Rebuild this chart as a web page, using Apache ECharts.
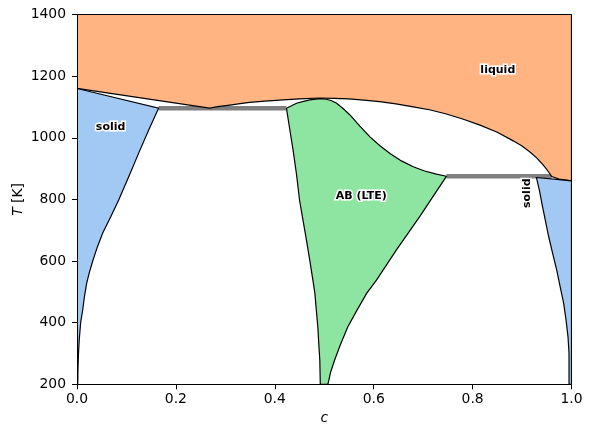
<!DOCTYPE html>
<html><head><meta charset="utf-8">
<script src="https://cdn.jsdelivr.net/npm/echarts@6/dist/echarts.min.js"></script>
<style>html,body{margin:0;padding:0;background:#fff}#c{width:592px;height:437px}</style>
</head><body><div id="c"></div>
<script>
// Liquidus (lower boundary of the liquid region), c from 0 to 1
const liquidus = [[0,1160],[0.268,1096],[0.285,1101],[0.309,1106],[0.33,1111],[0.349,1115],[0.38,1119],[0.417,1123],[0.45,1126],[0.49,1129],[0.52,1128],[0.55,1126],[0.58,1122],[0.612,1117],[0.645,1110],[0.68,1100],[0.715,1090],[0.747,1077],[0.78,1061],[0.815,1041],[0.85,1018],[0.882,990],[0.9,973],[0.916,954],[0.93,934],[0.943,911],[0.952,893],[0.96,874],[0.975,866],[1,860]];
// Left terminal solid
const leftSolid = [[0,1160],[0.165,1096],[0.145,1025],[0.126,955],[0.105,875],[0.0843,798],[0.067,740],[0.052,691],[0.041,645],[0.0318,600],[0.025,563],[0.0196,528],[0.015,484],[0.0115,441],[0.0075,402],[0.0045,344],[0.003,300],[0.002,250],[0.0015,200],[0,200]];
// Line compound AB (LTE)
const abPhase = [[0.4235,1096],[0.444,1112],[0.46,1119],[0.471,1123],[0.4915,1127],[0.5045,1125],[0.515,1120],[0.525,1112],[0.538,1095],[0.552,1074],[0.572,1038],[0.5925,1003],[0.612,975],[0.633,949],[0.656,925],[0.68,906],[0.703,892],[0.727,882],[0.747,875],[0.693,744],[0.646,636],[0.6056,538],[0.586,496],[0.566,440],[0.5475,386],[0.533,330],[0.521,279],[0.513,240],[0.508,204],[0.507,200],[0.492,200],[0.4915,240],[0.491,279],[0.489,330],[0.487,386],[0.484,440],[0.481,496],[0.477,538],[0.471,600],[0.464,668],[0.457,733],[0.450,798],[0.444,880],[0.437,960],[0.43,1030]];
// Right terminal solid
const rightSolid = [[0.929,871],[1,860],[1,200],[0.995,200],[0.995,246],[0.995,300],[0.993,353],[0.989,408],[0.984,464],[0.977,517],[0.970,571],[0.962,624],[0.954,678],[0.947,733],[0.940,788],[0.935,830]];
// Eutectic tie lines
const eutectic1 = [[0.165,1096],[0.4235,1096]];
const eutectic2 = [[0.747,875],[0.96,875]];
// Region labels
const labelNames = ['liquid','solid','AB (LTE)','solid'];
const labelPos = [[0.851,1219],[0.068,1034],[0.575,812],[0.910,820]];
const labelRot = [0,0,0,90];
const xTicks = {min:0, max:1, step:0.2};
const yTicks = {min:200, max:1400, step:200};

const liquidRegion = [[0,1400],[1,1400]].concat(liquidus.slice().reverse());

function poly(points, fill, z){
  return {
    type:'custom', coordinateSystem:'cartesian2d', clip:true, z:z, silent:true,
    data: points, encode:{x:0,y:1},
    renderItem: function(params, api){
      if (params.dataIndex !== 0) return;
      const pts = points.map(p => api.coord(p));
      return {type:'polygon', shape:{points:pts}, style:{fill:fill, stroke:'#000', lineWidth:1.2}};
    }
  };
}
function tie(points){
  return {type:'line', data:points, symbol:'none', z:1, silent:true,
    lineStyle:{color:'#808080', width:4.5}};
}
const FONT = 'DejaVu Sans';
const chart = echarts.init(document.getElementById('c'), null, {renderer:'canvas'});
chart.setOption({
  animation:false,
  textStyle:{fontFamily:FONT},
  grid:{left:77, right:20.5, top:14.5, bottom:52.7, containLabel:false, outerBoundsMode:'none'},
  xAxis:[{
    type:'value', min:xTicks.min, max:xTicks.max, interval:xTicks.step, z:5,
    axisLine:{lineStyle:{color:'#000', width:1}},
    axisTick:{length:5, lineStyle:{color:'#000'}},
    axisLabel:{formatter:v=>v.toFixed(1), fontSize:13.9, color:'#000', margin:8, fontFamily:FONT},
    splitLine:{show:false},
    name:'c', nameLocation:'middle', nameGap:27,
    nameTextStyle:{fontSize:13.9, fontStyle:'italic', color:'#000', fontFamily:FONT}
  },{
    type:'value', position:'top', min:xTicks.min, max:xTicks.max, z:5,
    axisLine:{show:true, lineStyle:{color:'#000', width:1}},
    axisTick:{show:false}, axisLabel:{show:false}, splitLine:{show:false}
  }],
  yAxis:[{
    type:'value', min:yTicks.min, max:yTicks.max, interval:yTicks.step, z:5,
    axisLine:{show:true, lineStyle:{color:'#000', width:1}},
    axisTick:{show:true, length:5, lineStyle:{color:'#000'}},
    axisLabel:{formatter:v=>String(v), fontSize:13.9, color:'#000', margin:11, fontFamily:FONT},
    splitLine:{show:false},
    name:'{i|T} [K]', nameLocation:'middle', nameGap:52, nameRotate:90, nameMoveOverlap:false,
    nameTextStyle:{fontSize:13.9, color:'#000', fontFamily:FONT,
      rich:{i:{fontStyle:'italic', fontSize:13.9, color:'#000', fontFamily:FONT}}}
  },{
    type:'value', position:'right', min:yTicks.min, max:yTicks.max, z:5,
    axisLine:{show:true, lineStyle:{color:'#000', width:1}},
    axisTick:{show:false}, axisLabel:{show:false}, splitLine:{show:false}
  }],
  series:[
    tie(eutectic1),
    tie(eutectic2),
    poly(liquidRegion, '#FFB482', 2),
    poly(leftSolid, '#A1C9F4', 2),
    poly(abPhase, '#8DE5A1', 2),
    poly(rightSolid, '#A1C9F4', 2),
    {
      type:'custom', coordinateSystem:'cartesian2d', z:10, silent:true,
      data: labelPos, encode:{x:0,y:1},
      renderItem: function(params, api){
        const i = params.dataIndex;
        const p = api.coord(labelPos[i]);
        return {type:'text', x:p[0], y:p[1], rotation:labelRot[i]*Math.PI/180,
          style:{text:labelNames[i], fill:'#000', stroke:'#fff', lineWidth:3, strokeFirst:true,
            font:'bold 11px "DejaVu Sans"', align:'center', verticalAlign:'middle'}};
      }
    }
  ]
});
</script></body></html>
